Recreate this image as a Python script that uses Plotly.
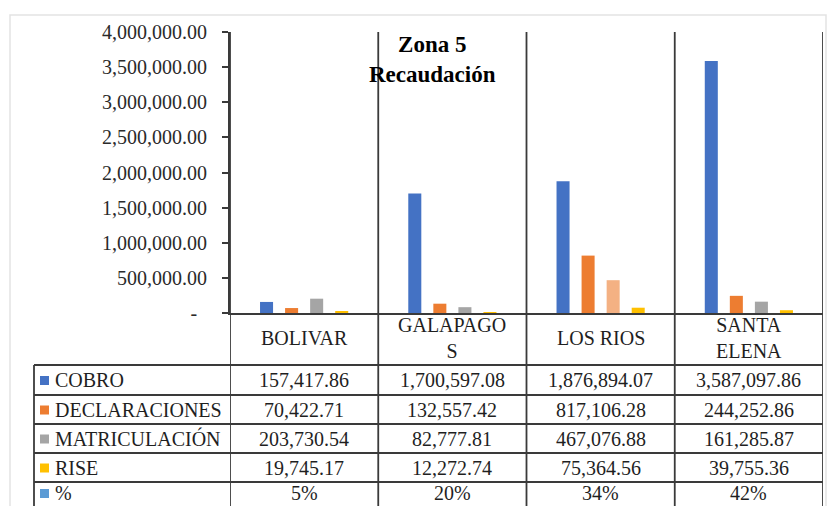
import plotly.graph_objects as go

# ---------------- data ----------------
categories = ["BOLIVAR", "GALAPAGOS", "LOS RIOS", "SANTA ELENA"]
header_labels = ["BOLIVAR", "GALAPAGO<br>S", "LOS RIOS", "SANTA<br>ELENA"]
series_names = ["COBRO", "DECLARACIONES", "MATRICULACIÓN", "RISE", "%"]
cobro = [157417.86, 1700597.08, 1876894.07, 3587097.86]
declaraciones = [70422.71, 132557.42, 817106.28, 244252.86]
matriculacion = [203730.54, 82777.81, 467076.88, 161285.87]
rise = [19745.17, 12272.74, 75364.56, 39755.36]
porcentaje = [0.05, 0.20, 0.34, 0.42]
ytick_vals = [0, 500000, 1000000, 1500000, 2000000, 2500000, 3000000, 3500000, 4000000]
ytick_text = ["-\u00a0\u00a0"] + [f"{v:,.2f}" for v in ytick_vals[1:]]
title_text = "<b>Zona 5<br>Recaudación</b>"

# ---------------- style ----------------
# page body has an 8px margin, so the figure is drawn 8px smaller and offset
OFF = 8
W, H = 839 - OFF, 506 - OFF
PLOT_L, PLOT_R, PLOT_T, PLOT_B = 230, 823, 32, 313   # target page pixels
L, R, T, B = PLOT_L - OFF, 839 - PLOT_R, PLOT_T - OFF, 506 - PLOT_B
PW, PH = W - L - R, H - T - B
FONT = "Liberation Serif"
C_BLUE, C_ORANGE, C_GRAY, C_YELLOW, C_LBLUE = "#4472C4", "#ED7D31", "#A5A5A5", "#FFC000", "#5B9BD5"
C_LIGHTORANGE = "#F4B183"
LINE = "#3a3a3a"
TXT = "#1f1f1f"

def px_x(px):
    # page pixel -> paper x
    return (px - PLOT_L) / PW

def px_y(py):
    # page pixel -> paper y
    return (PLOT_B - py) / PH

fig = go.Figure()
matr_colors = [C_GRAY, C_GRAY, C_LIGHTORANGE, C_GRAY]
series_vals = [cobro, declaraciones, matriculacion, rise]
series_cols = [C_BLUE, C_ORANGE, matr_colors, C_YELLOW]
for name, vals, col in zip(series_names[:4], series_vals, series_cols):
    fig.add_trace(go.Bar(x=categories, y=vals, name=name, marker=dict(color=col, line=dict(width=0)),
                         showlegend=False, hoverinfo="skip"))

shapes = []
annotations = []

# outer light frame
shapes.append(dict(type="rect", xref="paper", yref="paper", x0=px_x(10), x1=px_x(826), y0=px_y(520), y1=px_y(15),
                   line=dict(color="#e3e3e3", width=1.5), fillcolor="rgba(0,0,0,0)", layer="below"))

# vertical column lines (category boundaries)
for i in range(len(categories) + 1):
    shapes.append(dict(type="line", xref="x", yref="paper", x0=i - 0.5, x1=i - 0.5, y0=1, y1=px_y(520),
                       line=dict(color=LINE, width=1.8)))

# table horizontal lines
row_lines = [365, 395, 424, 453, 482]
for py in row_lines:
    shapes.append(dict(type="line", xref="paper", yref="paper", x0=px_x(34), x1=1, y0=px_y(py), y1=px_y(py),
                       line=dict(color=LINE, width=1.8)))
# left border of key column
shapes.append(dict(type="line", xref="paper", yref="paper", x0=px_x(34), x1=px_x(34), y0=px_y(365), y1=px_y(520),
                   line=dict(color=LINE, width=1.8)))

# header labels
for c, lab in zip(categories, header_labels):
    annotations.append(dict(x=c, y=px_y(338), xref="x", yref="paper", text=lab, showarrow=False,
                            font=dict(family=FONT, size=20, color=TXT), xanchor="center", yanchor="middle"))

# rows
row_centers = [380, 409.5, 438.5, 467.5, 493]
row_colors = [C_BLUE, C_ORANGE, C_GRAY, C_YELLOW, C_LBLUE]
row_texts = [[f"{v:,.2f}" for v in cobro],
             [f"{v:,.2f}" for v in declaraciones],
             [f"{v:,.2f}" for v in matriculacion],
             [f"{v:,.2f}" for v in rise],
             [f"{p:.0%}" for p in porcentaje]]
for name, cy, col, texts in zip(series_names, row_centers, row_colors, row_texts):
    shapes.append(dict(type="rect", xref="paper", yref="paper", x0=px_x(40), x1=px_x(49),
                       y0=px_y(cy + 5), y1=px_y(cy - 4), fillcolor=col, line=dict(width=0)))
    annotations.append(dict(x=px_x(53), y=px_y(cy), xref="paper", yref="paper", text=name, showarrow=False,
                            font=dict(family=FONT, size=20, color=TXT), xanchor="left", yanchor="middle"))
    for c, t in zip(categories, texts):
        annotations.append(dict(x=c, y=px_y(cy), xref="x", yref="paper", text=t, showarrow=False,
                                font=dict(family=FONT, size=20, color=TXT), xanchor="center", yanchor="middle"))

# title
annotations.append(dict(x=px_x(432), y=px_y(59), xref="paper", yref="paper", text=title_text, showarrow=False,
                        font=dict(family=FONT, size=23, color="#000000"), xanchor="center", yanchor="middle"))

fig.update_layout(
    width=W, height=H,
    margin=dict(l=L, r=R, t=T, b=B, pad=0),
    paper_bgcolor="white", plot_bgcolor="white",
    barmode="group", bargap=0.324, bargroupgap=0.48,
    font=dict(family=FONT, size=20, color=TXT),
    shapes=shapes, annotations=annotations,
    xaxis=dict(type="category", range=[-0.5, 3.5], showticklabels=False, ticks="", showgrid=False,
               showline=True, linecolor=LINE, linewidth=1.8, zeroline=False, fixedrange=True),
    yaxis=dict(range=[0, 4000000], tickvals=ytick_vals, ticktext=ytick_text, ticks="outside", ticklen=6,
               tickwidth=1.5, tickcolor=LINE, showline=True, linecolor=LINE, linewidth=1.8, showgrid=False,
               zeroline=False, ticklabelstandoff=11, tickfont=dict(family=FONT, size=20, color="#2a2a2a"),
               fixedrange=True),
)

fig.write_html("out.html")
